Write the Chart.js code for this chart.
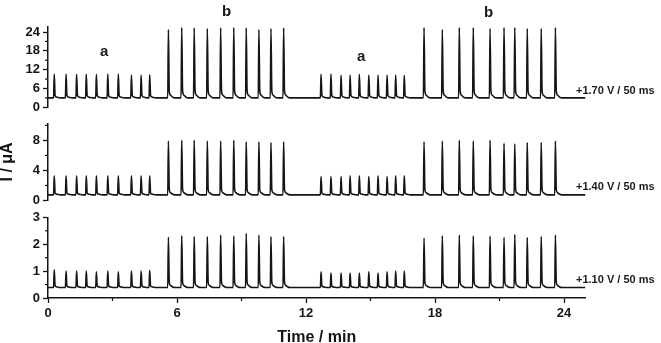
<!DOCTYPE html>
<html>
<head>
<meta charset="utf-8">
<script src="https://cdn.jsdelivr.net/npm/chart.js@4.4.1/dist/chart.umd.min.js"></script>
<style>
  body { margin: 0; background: #fff; }
  #wrap { position: relative; width: 661px; height: 343px; overflow: hidden;
          font-family: "Liberation Sans", Arial, sans-serif; font-weight: bold; color: #1a1a1a; }
  #wrap canvas { position: absolute; left: 0; top: 0; }
  .lbl { position: absolute; white-space: nowrap; }
  .grp { font-size: 15px; line-height: 16px; }
  .volt { font-size: 11px; line-height: 12px; }
</style>
</head>
<body>
<div id="wrap">
  <canvas id="panel-1" width="661" height="343"></canvas>
  <canvas id="panel-2" width="661" height="343"></canvas>
  <canvas id="panel-3" width="661" height="343"></canvas>
  <div class="lbl grp" style="left:100px;top:43px">a</div>
  <div class="lbl grp" style="left:222px;top:3px">b</div>
  <div class="lbl grp" style="left:357px;top:48px">a</div>
  <div class="lbl grp" style="left:484px;top:4px">b</div>
  <div class="lbl volt" style="left:576px;top:84px">+1.70 V / 50 ms</div>
  <div class="lbl volt" style="left:576px;top:180px">+1.40 V / 50 ms</div>
  <div class="lbl volt" style="left:576px;top:273px">+1.10 V / 50 ms</div>
</div>
<script>
// injection times (min), same for all three traces
let timesA1 = [0.29, 0.84, 1.33, 1.78, 2.25, 2.78, 3.27, 3.88, 4.33, 4.73];
let timesB1 = [5.60, 6.22, 6.80, 7.41, 8.03, 8.64, 9.22, 9.81, 10.37, 10.96];
let timesA2 = [12.70, 13.16, 13.63, 14.05, 14.48, 14.92, 15.35, 15.77, 16.17, 16.57];
let timesB2 = [17.49, 18.34, 19.13, 19.78, 20.56, 21.21, 21.71, 22.29, 22.94, 23.60];
let peakTimes = [...timesA1, ...timesB1, ...timesA2, ...timesB2];

// peak currents (uA) for each potential
let peaks170 = [10.6, 10.6, 10.5, 10.5, 10.5, 10.6, 10.6, 10.3, 10.3, 10.4,
                24.8, 25.4, 25.3, 25.1, 25.3, 25.4, 25.3, 24.8, 25.1, 25.3,
                10.5, 10.6, 10.2, 10.3, 10.5, 10.3, 10.3, 10.3, 10.3, 10.2,
                25.4, 24.8, 25.4, 25.4, 25.1, 25.4, 25.4, 25.1, 25.1, 25.4];
let peaks140 = [3.3, 3.3, 3.3, 3.3, 3.3, 3.3, 3.3, 3.3, 3.3, 3.3,
                7.9, 8.0, 8.0, 7.9, 7.9, 8.0, 7.8, 7.8, 7.7, 7.8,
                3.2, 3.2, 3.2, 3.3, 3.3, 3.2, 3.3, 3.2, 3.3, 3.3,
                7.8, 7.9, 8.0, 7.9, 8.0, 7.6, 7.5, 7.7, 7.7, 7.9];
let peaks110 = [1.05, 1.00, 1.00, 1.00, 0.97, 1.00, 0.97, 1.00, 1.00, 1.03,
                2.26, 2.31, 2.28, 2.28, 2.34, 2.30, 2.40, 2.34, 2.28, 2.28,
                0.97, 0.93, 0.93, 0.93, 0.93, 0.97, 0.93, 0.97, 1.00, 1.00,
                2.23, 2.31, 2.34, 2.30, 2.29, 2.25, 2.36, 2.25, 2.28, 2.34];
let baselines = [3.0, 0.75, 0.39];

// shape of one transient: offsets (min) and fraction of peak height
let shapeDt = [-0.03, 0, 0.04, 0.10, 0.18, 0.30];
let shapeFrac = [0, 1, 0.10, 0.04, 0.015, 0];

let xMajor = 6;
let xMinor = [3, 9, 15, 21];

let ink = '#151515';
let fontFamily = "'Liberation Sans', Arial, sans-serif";

function buildTrace(heights, base) {
  let pts = [{x: 0, y: base}];
  peakTimes.forEach((t, i) => {
    shapeDt.forEach((dt, j) => {
      pts.push({x: t + dt, y: base + (heights[i] - base) * shapeFrac[j]});
    });
  });
  pts.push({x: 25, y: base});
  return pts;
}

const minorTicks = {
  id: 'minorTicks',
  afterDraw(chart, args, opts) {
    let ctx = chart.ctx;
    let area = chart.chartArea;
    ctx.save();
    ctx.strokeStyle = ink;
    ctx.lineWidth = 1.2;
    (opts.y || []).forEach(v => {
      let y = chart.scales.y.getPixelForValue(v);
      ctx.beginPath();
      ctx.moveTo(area.left - 3, y);
      ctx.lineTo(area.left, y);
      ctx.stroke();
    });
    (opts.x || []).forEach(v => {
      let x = chart.scales.x.getPixelForValue(v);
      ctx.beginPath();
      ctx.moveTo(x, area.bottom);
      ctx.lineTo(x, area.bottom + 3);
      ctx.stroke();
    });
    ctx.restore();
  }
};

function drawPanel(id, heights, base, yMax, yStep, yMinor, padTop, padBottom, showX, yTitle) {
  let tickFont = {family: fontFamily, size: 13, weight: 'bold'};
  return new Chart(id, {
    type: 'line',
    data: {
      datasets: [{
        data: buildTrace(heights, base),
        borderColor: ink,
        borderWidth: 1.6,
        pointRadius: 0,
        cubicInterpolationMode: 'monotone',
        fill: false
      }]
    },
    options: {
      responsive: false,
      animation: false,
      events: [],
      layout: {padding: {top: padTop, bottom: padBottom, left: 0, right: 75.5}},
      plugins: {
        legend: {display: false},
        tooltip: {enabled: false},
        minorTicks: {x: showX ? xMinor : [], y: yMinor}
      },
      scales: {
        x: {
          type: 'linear',
          min: 0,
          max: 25,
          display: showX,
          ticks: {stepSize: xMajor, includeBounds: false, maxRotation: 0, font: tickFont, color: ink, padding: 3},
          grid: {drawOnChartArea: false, tickLength: 5, tickColor: ink, tickWidth: 1.3},
          border: {color: ink, width: 1.5},
          title: {
            display: true,
            text: 'Time / min',
            color: ink,
            font: {family: fontFamily, size: 16, weight: 'bold'},
            padding: {top: 0, bottom: -4}
          },
          afterFit: s => { if (showX) s.height = 45; }
        },
        y: {
          min: 0,
          max: yMax,
          ticks: {stepSize: yStep, includeBounds: false, font: tickFont, color: ink, padding: 3},
          grid: {drawOnChartArea: false, tickLength: 5, tickColor: ink, tickWidth: 1.3},
          border: {color: ink, width: 1.5},
          title: {
            display: !!yTitle,
            text: yTitle || '',
            color: ink,
            font: {family: fontFamily, size: 16, weight: 'bold'},
            padding: {top: -2, bottom: 0}
          },
          afterFit: s => { s.width = 48; }
        }
      }
    },
    plugins: [minorTicks]
  });
}

drawPanel('panel-1', peaks170, baselines[0], 25.6, 6, [3, 9, 15, 21], 27, 235.7, false, null);
drawPanel('panel-2', peaks140, baselines[1], 10.27, 4, [2, 6, 10], 123.3, 142.5, false, 'I / μA');
drawPanel('panel-3', peaks110, baselines[2], 3, 1, [0.5, 1.5, 2.5], 217.3, 0, true, null);
</script>
</body>
</html>
